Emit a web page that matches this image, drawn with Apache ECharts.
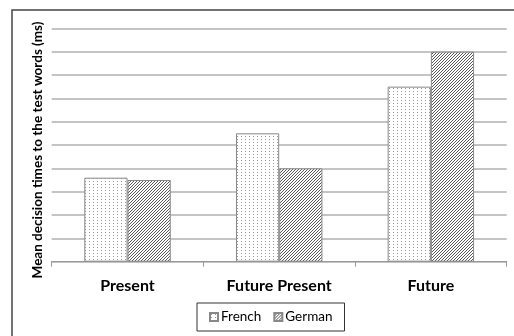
<!DOCTYPE html>
<html>
<head>
<meta charset="utf-8">
<script src="https://cdn.jsdelivr.net/npm/echarts@6/dist/echarts.min.js"></script>
<style>
html,body{margin:0;padding:0;background:#fff;}
#chart{width:514px;height:336px;}
</style>
</head>
<body>
<div id="chart"></div>
<script>
const categories = ['Present', 'Future Present', 'Future'];
const frenchValues = [3.6, 5.5, 7.5];
const germanValues = [3.5, 4.0, 9.0];
const seriesNames = ['French', 'German'];
const yTitle = 'Mean decision times to the test words (ms)';

function makeDots() {
  const c = document.createElement('canvas');
  c.width = 4; c.height = 3;
  const ctx = c.getContext('2d');
  ctx.fillStyle = '#fff'; ctx.fillRect(0, 0, 4, 3);
  ctx.fillStyle = '#999'; ctx.fillRect(1, 1, 1, 1);
  return c;
}
function makeHatch() {
  const c = document.createElement('canvas');
  c.width = 3; c.height = 3;
  const ctx = c.getContext('2d');
  ctx.fillStyle = '#fff'; ctx.fillRect(0, 0, 3, 3);
  ctx.fillStyle = '#5a5a5a';
  ctx.fillRect(2, 0, 1, 1); ctx.fillRect(1, 1, 1, 1); ctx.fillRect(0, 2, 1, 1);
  return c;
}

const chart = echarts.init(document.getElementById('chart'), null, {renderer: 'canvas'});
chart.setOption({
  animation: false,
  backgroundColor: '#fff',
  graphic: [
    {type: 'rect', shape: {x: 12, y: 10, width: 520, height: 340}, style: {fill: 'none', stroke: '#444', lineWidth: 1.5}, z: 0},
    {type: 'text', x: 37.5, y: 150, rotation: Math.PI / 2,
     style: {text: yTitle, font: 'bold 13.5px Lato', fill: '#000', align: 'center', verticalAlign: 'middle'}}
  ],
  grid: {left: 51.7, right: 7.3, top: 28.3, bottom: 74.3, containLabel: false},
  legend: {
    data: seriesNames,
    left: 197, top: 303,
    orient: 'horizontal',
    itemWidth: 8, itemHeight: 8, itemGap: 12,
    padding: [7, 12],
    borderColor: '#333', borderWidth: 1,
    textStyle: {fontFamily: 'Lato', fontSize: 13.5, color: '#000', padding: [0, 0, 0, -2]},
    icon: 'rect'
  },
  xAxis: {
    type: 'category',
    data: categories,
    axisLine: {lineStyle: {color: '#999', width: 1}},
    axisTick: {show: true, length: 5, lineStyle: {color: '#999'}},
    axisLabel: {fontFamily: 'Lato', fontWeight: 'bold', fontSize: 16, color: '#000', margin: 16}
  },
  yAxis: {
    type: 'value', min: 0, max: 10, interval: 1,
    axisLabel: {show: false},
    axisLine: {show: false},
    axisTick: {show: false},
    splitLine: {lineStyle: {color: '#b0b0b0', width: 1.5}}
  },
  series: [
    {name: seriesNames[0], type: 'bar', data: frenchValues, barGap: '0%', barCategoryGap: '43%',
     itemStyle: {color: {image: makeDots(), repeat: 'repeat'}, borderColor: '#888', borderWidth: 1}},
    {name: seriesNames[1], type: 'bar', data: germanValues, barGap: '0%', barCategoryGap: '43%',
     itemStyle: {color: {image: makeHatch(), repeat: 'repeat'}, borderColor: '#888', borderWidth: 1}}
  ]
});
</script>
</body>
</html>
